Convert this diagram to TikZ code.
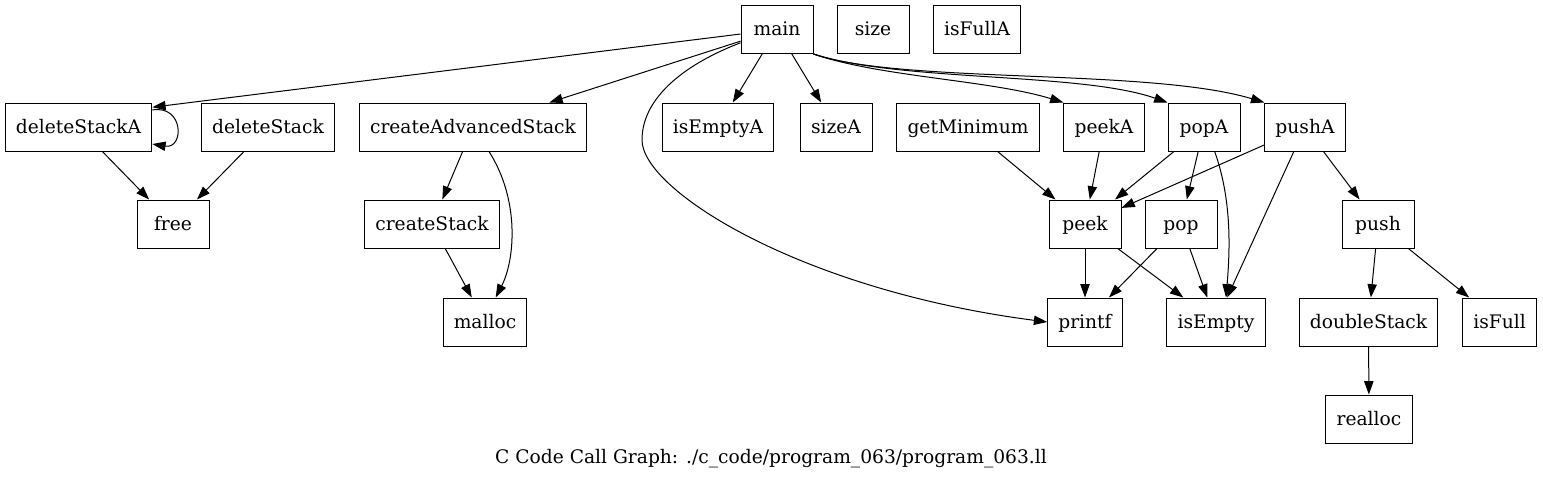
\documentclass[tikz,border=0pt]{standalone}
\usepackage{fontspec}
\setmainfont{DejaVu Serif}
\usetikzlibrary{arrows.meta}

\begin{document}
\begin{tikzpicture}[->,>={Triangle[length=10pt,width=7pt]},x=0.75pt,y=-0.75pt,line width=0.75pt,
    fn/.style={draw,rectangle,minimum width=54pt,minimum height=36pt,inner xsep=8pt,
        text height=11pt,text depth=1.8pt,font=\fontsize{14}{17}\selectfont}]
    \useasboundingbox (0,0) rectangle (1543,480);

    \node[fn] (main) at (777,29.5) {main};
    \node[fn] (size) at (873,29.5) {size};
    \node[fn] (isFullA) at (977,29.5) {isFullA};

    \node[fn] (deleteStackA) at (78.5,127) {deleteStackA};
    \node[fn] (deleteStack) at (268,127) {deleteStack};
    \node[fn] (createAdvancedStack) at (473,127) {createAdvancedStack};
    \node[fn] (isEmptyA) at (718,127) {isEmptyA};
    \node[fn] (sizeA) at (836,127) {sizeA};
    \node[fn] (getMinimum) at (968,127) {getMinimum};
    \node[fn] (peekA) at (1104,127) {peekA};
    \node[fn] (popA) at (1204,127) {popA};
    \node[fn] (pushA) at (1305,127) {pushA};

    \node[fn] (free) at (173,224) {free};
    \node[fn] (createStack) at (432,224) {createStack};
    \node[fn] (peek) at (1085,224) {peek};
    \node[fn] (pop) at (1181,224) {pop};
    \node[fn] (push) at (1378,224) {push};

    \node[fn] (malloc) at (485,322) {malloc};
    \node[fn] (printf) at (1085,322) {printf};
    \node[fn] (isEmpty) at (1216,322) {isEmpty};
    \node[fn] (doubleStack) at (1368.5,322) {doubleStack};
    \node[fn] (isFull) at (1499.5,322) {isFull};

    \node[fn] (realloc) at (1369,419) {realloc};

    \node[font=\fontsize{14}{17}\selectfont] (caption) at (771,459) {C Code Call Graph: ./c\_code/program\_063/program\_063.ll};

    \path (main) edge (deleteStackA.15)
          (main) edge (createAdvancedStack)
          (main) edge (isEmptyA)
          (main) edge (sizeA)
          (deleteStackA) edge (free)
          (deleteStack) edge (free)
          (createAdvancedStack) edge (createStack)
          (createStack) edge (malloc)
          (getMinimum) edge (peek)
          (peekA) edge (peek)
          (popA) edge (peek)
          (popA) edge (pop)
          (pushA) edge (peek)
          (pushA) edge (isEmpty)
          (pushA) edge (push)
          (peek) edge (printf)
          (peek) edge (isEmpty)
          (pop) edge (printf)
          (pop) edge (isEmpty)
          (push) edge (doubleStack)
          (push) edge (isFull)
          (doubleStack) edge (realloc);

    \draw (deleteStackA.13) .. controls +(24pt,4pt) and +(24pt,-4pt) .. (deleteStackA.-13);
    \draw (main.200) .. controls (690,62) and (642,95) .. (642,140)
          .. controls (642,190) and (800,290) .. (printf.west);
    \draw (main.south east) .. controls (880,77) and (990,80) .. (peekA.north west);
    \draw (main.south east) .. controls (900,82) and (1080,72) .. (popA.north west);
    \draw (main.south east) .. controls (900,84) and (1150,68) .. (pushA.north west);
    \draw ([xshift=12pt]createAdvancedStack.south) .. controls (520,200) and (515,260) .. ([xshift=8pt]malloc.north);
    \draw ([xshift=8pt]popA.south) .. controls (1232,200) and (1230,250) .. ([xshift=7.5pt]isEmpty.north);
\end{tikzpicture}
\end{document}
